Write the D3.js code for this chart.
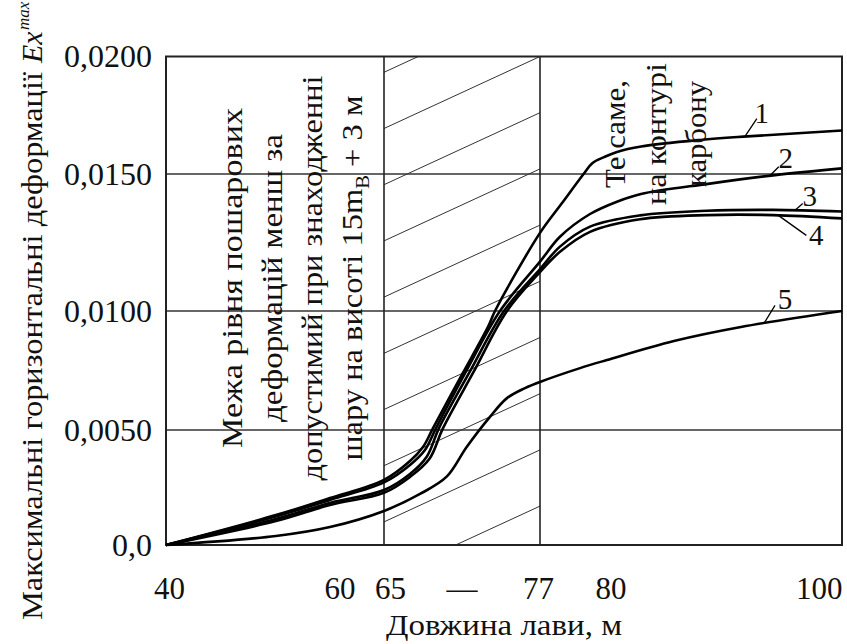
<!DOCTYPE html>
<html>
<head>
<meta charset="utf-8">
<script src="https://cdn.jsdelivr.net/npm/d3@7"></script>
<style>
  html, body { margin: 0; padding: 0; background: #fff; }
  svg { display: block; }
</style>
</head>
<body>
<svg id="chart" width="847" height="644"></svg>
<script>
// ---- data -------------------------------------------------------------
// Довжина лави, м
const xTicks = [40, 60, 65, 77, 80, 100];
const xTickLabels = ["40", "60", "65", "77", "80", "100"];
// Максимальні горизонтальні деформації
const yTicks = [0, 0.005, 0.010, 0.015, 0.020];
const yTickLabels = ["0,0", "0,0050", "0,0100", "0,0150", "0,0200"];

// zone of allowed deformation, м
const band = [65, 77];

// curves [довжина лави, Ex max]
const curve1 = [[40, 0], [52.6, 0.00130], [58.8, 0.00204], [65, 0.00283], [67.0, 0.00365],
  [68.0, 0.00426], [68.77, 0.00508], [70.85, 0.00718], [73.0, 0.00933], [73.54, 0.0100],
  [77, 0.01285], [78.68, 0.01394], [80.32, 0.0150], [81.0, 0.01547], [81.88, 0.01572],
  [82.86, 0.01594], [84.7, 0.01617], [89.2, 0.01645], [92.8, 0.01660], [100, 0.01685]];
const curve2 = [[40, 0], [52.6, 0.00124], [58.8, 0.00196], [65, 0.00272], [67.0, 0.00348],
  [68.15, 0.00413], [69.0, 0.00508], [71.3, 0.00745], [73.92, 0.0100],
  [77, 0.0118], [78.52, 0.01271], [80.81, 0.01354], [82.86, 0.01399], [84.69, 0.01427],
  [89.8, 0.01464], [94.9, 0.01496], [100, 0.01524]];
const curve3 = [[40, 0], [52.6, 0.00113], [58.8, 0.00183], [65, 0.00239], [67.0, 0.00309],
  [68.3, 0.00385], [69.23, 0.00508], [71.6, 0.00745], [74.23, 0.0100],
  [77, 0.01153], [78.52, 0.01235], [80.81, 0.01308], [84.62, 0.01349], [89.7, 0.01366],
  [94.75, 0.01369], [100, 0.01363]];
const curve4 = [[40, 0], [52.6, 0.00104], [58.8, 0.00174], [65, 0.00227], [67.0, 0.00296],
  [68.5, 0.00375], [69.54, 0.00508], [71.9, 0.00745], [74.46, 0.0100],
  [77, 0.01142], [78.52, 0.01216], [80.81, 0.01289], [84.62, 0.01335], [89.7, 0.01350],
  [94.75, 0.01350], [100, 0.01338]];
const curve5 = [[40, 0], [52.6, 0.00039], [58.8, 0.00078], [65, 0.00148], [67.77, 0.00222],
  [69.82, 0.00297], [71.36, 0.00426], [73.15, 0.00555], [74.46, 0.00634], [75.85, 0.00676],
  [77, 0.00702], [80.05, 0.00760], [82.1, 0.00794], [87.2, 0.00874], [92.3, 0.00933],
  [100, 0.0100]];
const curves = [curve1, curve2, curve3, curve4, curve5];
const curveNames = ["1", "2", "3", "4", "5"];
// where each curve number is attached (довжина лави)
const curveTagAt = [92.6, 94.5, 96.4, 95.15, 94.06];

// ---- layout -----------------------------------------------------------
const FONT = "Liberation Serif, Tinos, Times New Roman, Times, DejaVu Serif, serif";
const INK = "#111";
const svg = d3.select("#chart").style("font-family", FONT);
const L = 166, R = 842, T = 56.5, B = 545;

const x = d3.scaleLinear().domain([40, 65, 77, 100]).range([L, 384, 540, R]);
const y = d3.scaleLinear().domain([0, 0.005, 0.010, 0.015, 0.020]).range([B, 430, 311, 174, T]);

svg.append("rect").attr("width", 847).attr("height", 644).attr("fill", "#fff");

// hatched zone between the two verticals
svg.append("clipPath").attr("id", "bandClip")
  .append("rect")
  .attr("x", x(band[0])).attr("y", T)
  .attr("width", x(band[1]) - x(band[0])).attr("height", B - T);

const hatch = svg.append("g").attr("clip-path", "url(#bandClip)");
const hatchStep = 56.2, hatchDrop = 72;
d3.range(-1, 11).forEach(k => {
  const yr = T + k * hatchStep;
  hatch.append("line")
    .attr("x1", x(band[0])).attr("y1", yr + hatchDrop)
    .attr("x2", x(band[1])).attr("y2", yr)
    .attr("stroke", "#333").attr("stroke-width", 1);
});

// horizontal grid
svg.append("g").selectAll("line")
  .data(yTicks.filter(v => v > 0 && v < 0.02))
  .join("line")
  .attr("x1", L).attr("x2", R)
  .attr("y1", d => y(d)).attr("y2", d => y(d))
  .attr("stroke", "#333").attr("stroke-width", 1.3);

// zone borders
svg.append("g").selectAll("line")
  .data(band)
  .join("line")
  .attr("x1", d => x(d)).attr("x2", d => x(d))
  .attr("y1", T).attr("y2", B)
  .attr("stroke", "#222").attr("stroke-width", 1.6);

// frame
svg.append("rect")
  .attr("x", L).attr("y", T).attr("width", R - L).attr("height", B - T)
  .attr("fill", "none").attr("stroke", "#222").attr("stroke-width", 2);

// curves
const line = d3.line().x(d => x(d[0])).y(d => y(d[1])).curve(d3.curveCatmullRom.alpha(0.5));
svg.append("g").selectAll("path")
  .data(curves)
  .join("path")
  .attr("d", line)
  .attr("fill", "none").attr("stroke", "#000").attr("stroke-width", 2.6)
  .attr("stroke-linejoin", "round");

// curve numbers with leaders
const tagOffsets = [
  { lx: 12, ly: -18, tx: 17, ty: -14 },
  { lx: 9, ly: -9, tx: 16, ty: -8 },
  { lx: 8, ly: -7, tx: 15, ty: -4 },
  { lx: 28, ly: 20, tx: 38, ty: 30 },
  { lx: 11, ly: -18, tx: 21, ty: -14 }
];
function valueAt(c, xv) {
  for (let i = 1; i < c.length; i++) {
    if (xv <= c[i][0]) {
      const t = (xv - c[i - 1][0]) / (c[i][0] - c[i - 1][0]);
      return c[i - 1][1] + t * (c[i][1] - c[i - 1][1]);
    }
  }
  return c[c.length - 1][1];
}
const tags = svg.append("g");
curves.forEach((c, i) => {
  const px = x(curveTagAt[i]), py = y(valueAt(c, curveTagAt[i]));
  const o = tagOffsets[i];
  tags.append("line")
    .attr("x1", px).attr("y1", py).attr("x2", px + o.lx).attr("y2", py + o.ly)
    .attr("stroke", "#000").attr("stroke-width", 1.3);
  tags.append("text")
    .attr("x", px + o.tx).attr("y", py + o.ty)
    .attr("text-anchor", "middle").style("font-size", "29px")
    .attr("fill", INK)
    .text(curveNames[i]);
});

// axes
const labelNudge = { 40: 3, 60: -1, 65: 6, 77: -2, 80: 31, 100: 0 };
const xAxis = svg.append("g")
  .attr("transform", `translate(0,${B})`)
  .call(d3.axisBottom(x).tickValues(xTicks).tickSize(0).tickPadding(0)
    .tickFormat((d, i) => xTickLabels[i]));
xAxis.attr("font-family", null).attr("font-size", null);
xAxis.select(".domain").remove();
xAxis.selectAll("text")
  .style("font-size", "31px")
  .attr("dy", null)
  .attr("y", 54)
  .attr("dx", d => labelNudge[d])
  .attr("text-anchor", d => d === 100 ? "end" : "middle")
  .attr("x", d => d === 100 ? R - x(100) : 0)
  .attr("fill", INK);

svg.append("text")
  .attr("x", (x(band[0]) + x(band[1])) / 2).attr("y", B + 54)
  .attr("text-anchor", "middle").style("font-size", "31px")
  .attr("fill", INK).text("—");

const yAxis = svg.append("g")
  .attr("transform", `translate(${L},0)`)
  .call(d3.axisLeft(y).tickValues(yTicks).tickSize(0).tickPadding(14)
    .tickFormat((d, i) => yTickLabels[i]));
yAxis.attr("font-family", null).attr("font-size", null);
yAxis.select(".domain").remove();
yAxis.selectAll("text")
  .style("font-size", "32px")
  .attr("fill", INK);

// axis titles
svg.append("text")
  .attr("x", 504).attr("y", 635)
  .attr("text-anchor", "middle").style("font-size", "29px")
  .attr("textLength", 236).attr("lengthAdjust", "spacingAndGlyphs")
  .attr("fill", INK)
  .text("Довжина лави, м");

svg.append("text")
  .attr("transform", "translate(42,620) rotate(-90)")
  .style("font-size", "30px").attr("fill", INK)
  .attr("textLength", 548).attr("lengthAdjust", "spacingAndGlyphs")
  .text("Максимальні горизонтальні деформації");
svg.append("text")
  .attr("transform", "translate(42,63) rotate(-90)")
  .style("font-size", "30px").style("font-style", "italic").attr("fill", INK)
  .text("Ex");
svg.append("text")
  .attr("transform", "translate(29,30) rotate(-90)")
  .style("font-size", "17px").style("font-style", "italic").attr("fill", INK)
  .text("max");

// notes inside the plot
function verticalNote(lines, baseX, centerY, step) {
  lines.forEach((ln, i) => {
    const t = svg.append("text")
      .attr("transform", `translate(${baseX + i * step},${centerY}) rotate(-90)`)
      .attr("text-anchor", "middle").style("font-size", "30px")
      .attr("textLength", ln.len).attr("lengthAdjust", "spacingAndGlyphs")
      .attr("fill", INK);
    ln.parts.forEach(p => {
      const s = t.append("tspan").text(p.text);
      if (p.sub) s.style("font-size", "19px").attr("dy", 7);
      if (p.after) s.attr("dy", -7);
    });
  });
}
verticalNote([
  { len: 340, parts: [{ text: "Межа рівня пошарових" }] },
  { len: 288, parts: [{ text: "деформацій менш за" }] },
  { len: 405, parts: [{ text: "допустимий при знаходженні" }] },
  { len: 365, parts: [{ text: "шару на висоті 15m" }, { text: "В", sub: true }, { text: " + 3 м", after: true }] }
], 242, 278, 40);

verticalNote([
  { len: 108, parts: [{ text: "Те саме," }] },
  { len: 142, parts: [{ text: "на контурі" }] },
  { len: 106, parts: [{ text: "карбону" }] }
], 625, 134, 40.5);
</script>
</body>
</html>
